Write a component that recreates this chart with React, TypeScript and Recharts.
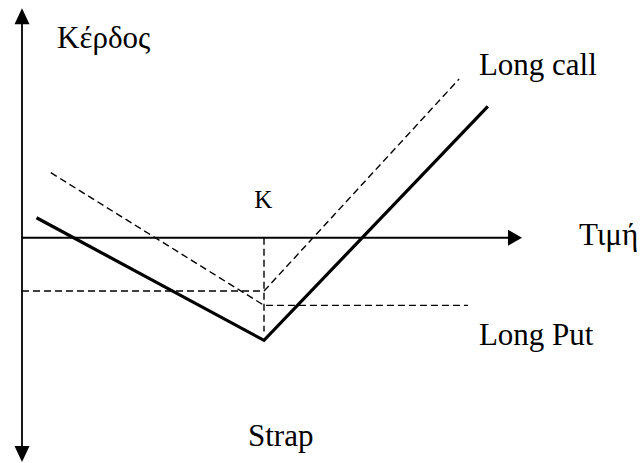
import React from "react";
import { LineChart, Line, XAxis, YAxis, ReferenceLine, ReferenceDot } from "recharts";

// Payoff diagram of a strap (2 calls + 1 put, same strike K).
const STRIKE = 100;

const strap = [
  { x: 6, y: 8 },
  { x: STRIKE, y: -41 },
  { x: 192.5, y: 52.5 },
];
const longCall = [
  { x: 0, y: -21.3 },
  { x: STRIKE, y: -21.3 },
  { x: 180.6, y: 63.4 },
];
const longPut = [
  { x: 11.9, y: 26 },
  { x: STRIKE, y: -27 },
  { x: 184.3, y: -27 },
];

// axis extents (arrow tips)
const X_END = 206.6;
const Y_TOP = 91.7;
const Y_BOTTOM = -89.6;
const STRIKE_DROP = -37.5;

const labels = [
  { text: "Κέρδος", x: 14.5, y: 75.8, size: 31 },
  { text: "Long call", x: 188.8, y: 65, size: 31 },
  { text: "Τιμή", x: 230.2, y: -2.9, size: 31 },
  { text: "Long Put", x: 188.8, y: -42.8, size: 31 },
  { text: "Strap", x: 93.4, y: -83.3, size: 31 },
  { text: "K", x: 96, y: 11.9, size: 25 },
];

const FONT = "'Liberation Serif', 'Times New Roman', serif";
const DASH = "7 4";

function arrow(dir: "up" | "down" | "right") {
  return (p: any) => {
    const { cx, cy } = p;
    let pts = "";
    if (dir === "right") pts = `${cx},${cy} ${cx - 14},${cy - 8} ${cx - 14},${cy + 8}`;
    if (dir === "up") pts = `${cx},${cy} ${cx - 7.5},${cy + 16} ${cx + 7.5},${cy + 16}`;
    if (dir === "down") pts = `${cx},${cy} ${cx - 7.5},${cy - 16} ${cx + 7.5},${cy - 16}`;
    return <polygon points={pts} fill="#000" />;
  };
}

function textAt(text: string, size: number) {
  return (p: any) => (
    <text x={p.cx} y={p.cy} fontFamily={FONT} fontSize={size} fill="#000">
      {text}
    </text>
  );
}

export default function App() {
  return (
    <div style={{ position: "fixed", left: 0, top: 0, width: 642, height: 463, background: "#fff" }}>
      <LineChart width={642} height={463} margin={{ top: 0, right: 15, bottom: 0, left: 22 }}>
        <XAxis type="number" dataKey="x" domain={[0, 250]} hide allowDataOverflow />
        <YAxis type="number" domain={[-90, 95]} hide allowDataOverflow />

        {/* axes */}
        <ReferenceLine
          segment={[{ x: 0, y: 0 }, { x: X_END - 2, y: 0 }]}
          stroke="#000"
          strokeWidth={1.8}
          ifOverflow="visible"
        />
        <ReferenceLine
          segment={[{ x: 0, y: Y_BOTTOM + 2 }, { x: 0, y: Y_TOP - 2 }]}
          stroke="#000"
          strokeWidth={1.8}
          ifOverflow="visible"
        />
        <ReferenceDot x={X_END} y={0} r={0} ifOverflow="visible" shape={arrow("right")} />
        <ReferenceDot x={0} y={Y_TOP} r={0} ifOverflow="visible" shape={arrow("up")} />
        <ReferenceDot x={0} y={Y_BOTTOM} r={0} ifOverflow="visible" shape={arrow("down")} />

        {/* strike marker */}
        <ReferenceLine
          segment={[{ x: STRIKE, y: 0 }, { x: STRIKE, y: STRIKE_DROP }]}
          stroke="#000"
          strokeWidth={1.4}
          strokeDasharray={DASH}
          ifOverflow="visible"
        />

        <Line
          data={longCall}
          dataKey="y"
          type="linear"
          stroke="#000"
          strokeWidth={1.4}
          strokeDasharray={DASH}
          dot={false}
          isAnimationActive={false}
        />
        <Line
          data={longPut}
          dataKey="y"
          type="linear"
          stroke="#000"
          strokeWidth={1.4}
          strokeDasharray={DASH}
          dot={false}
          isAnimationActive={false}
        />
        <Line
          data={strap}
          dataKey="y"
          type="linear"
          stroke="#000"
          strokeWidth={3.2}
          dot={false}
          isAnimationActive={false}
        />

        {labels.map((l) => (
          <ReferenceDot
            key={l.text}
            x={l.x}
            y={l.y}
            r={0}
            ifOverflow="visible"
            shape={textAt(l.text, l.size)}
          />
        ))}
      </LineChart>
    </div>
  );
}
